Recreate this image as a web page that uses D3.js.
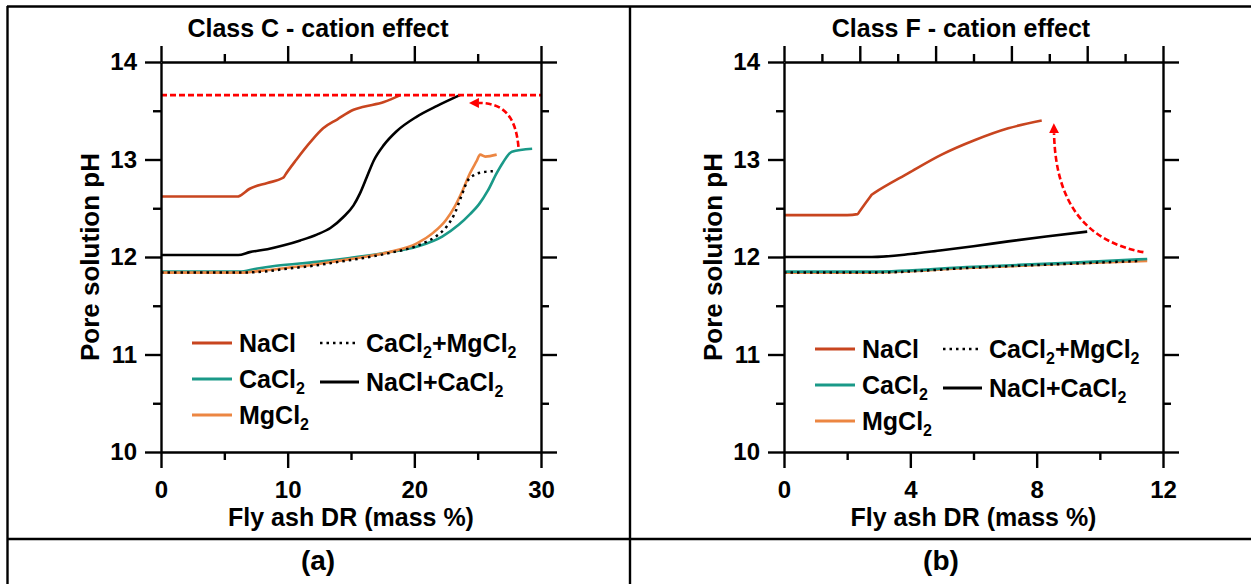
<!DOCTYPE html>
<html>
<head>
<meta charset="utf-8">
<script src="https://cdn.jsdelivr.net/npm/d3@7"></script>
<style>
  html, body { margin: 0; padding: 0; background: #fff; }
  svg { display: block; }
  text { font-family: "Liberation Sans", Arial, sans-serif; font-weight: bold; fill: #000; }
</style>
</head>
<body>
<svg id="chart" width="1251" height="584"></svg>
<script>
// ---------- DATA ----------
// Axis ticks
const yTicks = [10, 11, 12, 13, 14];
const yMinor = [10.5, 11.5, 12.5, 13.5];
const xTicksC = [0, 10, 20, 30];
const xMinorC = [5, 15, 25];
const xTicksF = [0, 4, 8, 12];
const xMinorF = [2, 6, 10];
const topTicksF = [0, 2.4, 4.8, 7.2, 9.6, 12];
const topMinorF = [1.2, 3.6, 6, 8.4, 10.8];

// Class C (panel a)
const cNaCl_x = [0, 6.1, 6.2, 7.0, 8.4, 9.6, 9.7, 9.8, 10.7, 11.8, 12.8, 13.9, 15.2, 16.0, 17.6, 18.9];
const cNaCl_y = [12.62, 12.62, 12.626, 12.70, 12.76, 12.81, 12.82, 12.84, 13.00, 13.18, 13.32, 13.41, 13.51, 13.54, 13.59, 13.66];
const cNaClCa_x = [0, 6.1, 7.0, 8.4, 9.7, 11.0, 12.3, 13.4, 14.4, 15.2, 15.7, 16.25, 16.8, 17.6, 18.6, 20.2, 21.8, 23.6];
const cNaClCa_y = [12.02, 12.02, 12.05, 12.08, 12.12, 12.17, 12.23, 12.30, 12.41, 12.53, 12.65, 12.82, 12.99, 13.15, 13.29, 13.44, 13.55, 13.66];
const cCaCl2_x = [0, 6.2, 7.5, 9.1, 12.3, 14.9, 17.6, 20.3, 22.2, 23.5, 24.4, 25.1, 25.8, 26.5, 27.0, 27.7, 29.3];
const cCaCl2_y = [11.85, 11.85, 11.88, 11.91, 11.95, 11.99, 12.04, 12.11, 12.21, 12.33, 12.44, 12.54, 12.68, 12.86, 12.97, 13.08, 13.11];
const cMgCl2_x = [0, 6.3, 8, 10, 12, 14, 16, 18, 20.2, 21.5, 22.5, 23.2, 23.8, 24.4, 24.9, 25.2, 25.6, 26.5];
const cMgCl2_y = [11.84, 11.84, 11.86, 11.89, 11.92, 11.96, 12.0, 12.05, 12.14, 12.25, 12.38, 12.52, 12.68, 12.86, 12.98, 13.05, 13.03, 13.05];
const cCaMg_x = [0, 6.3, 8, 10, 12, 14, 16, 18, 20.5, 21.8, 22.6, 23.2, 23.7, 24.2, 24.7, 25.4, 26.2];
const cCaMg_y = [11.84, 11.84, 11.85, 11.88, 11.91, 11.95, 11.99, 12.04, 12.13, 12.22, 12.32, 12.45, 12.62, 12.78, 12.84, 12.87, 12.88];
const cRefPH = 13.66;                         // red dashed level
const cArrow = [[28.22, 13.13], [28.0, 13.45], [27.0, 13.58], [25.1, 13.58]];

// Class F (panel b)
const fNaCl_x = [0, 2.0, 2.33, 2.38, 2.73, 2.78, 2.85, 3.94, 4.99, 6.05, 7.10, 8.16];
const fNaCl_y = [12.43, 12.43, 12.44, 12.462, 12.618, 12.64, 12.655, 12.86, 13.05, 13.20, 13.32, 13.40];
const fNaClCa_x = [0, 2.78, 4.0, 5.0, 6.0, 7.1, 8.3, 9.6];
const fNaClCa_y = [12.0, 12.0, 12.03, 12.07, 12.11, 12.16, 12.21, 12.26];
const fCaCl2_x = [0, 2.8, 6, 9, 11.5];
const fCaCl2_y = [11.85, 11.85, 11.90, 11.94, 11.98];
const fMgCl2_x = [0, 2.8, 6, 9, 11.5];
const fMgCl2_y = [11.84, 11.84, 11.89, 11.93, 11.96];
const fCaMg_x = [0, 2.8, 6, 9, 11.3];
const fCaMg_y = [11.84, 11.84, 11.89, 11.93, 11.96];
const fArrow = [[11.38, 12.05], [9.7, 12.15], [8.6, 12.5], [8.55, 13.27]];

// Labels
const titles = ["Class C - cation effect", "Class F - cation effect"];
const panelLabels = ["(a)", "(b)"];
const xTitle = "Fly ash DR (mass %)";
const yTitle = "Pore solution pH";
const legendCol1 = ["NaCl", "CaCl2", "MgCl2"];
const legendCol2 = ["CaCl2+MgCl2", "NaCl+CaCl2"];

// ---------- STYLE ----------
const colNaCl = "#C8451F", colCa = "#1A9988", colMg = "#EC8642", colRed = "#FF0000";
const styles = {
  "NaCl":        { stroke: colNaCl, dash: null },
  "CaCl2":       { stroke: colCa, dash: null },
  "MgCl2":       { stroke: colMg, dash: null },
  "CaCl2+MgCl2": { stroke: "#000", dash: "2.5,4" },
  "NaCl+CaCl2":  { stroke: "#000", dash: null }
};

const svg = d3.select("#chart");
const AX = 2.4;
const FS = 25;

// Marker
const defs = svg.append("defs");
defs.append("marker").attr("id", "arr").attr("viewBox", "0 0 10 10")
  .attr("refX", 0).attr("refY", 5).attr("markerWidth", 10).attr("markerHeight", 10)
  .attr("markerUnits", "userSpaceOnUse").attr("orient", "auto")
  .append("path").attr("d", "M0,0 L10,5 L0,10 Z").attr("fill", colRed);

// Table frame
const frame = svg.append("g").attr("stroke", "#000").attr("stroke-width", 2.4);
frame.append("line").attr("x1", 7).attr("x2", 1251).attr("y1", 6.5).attr("y2", 6.5);
frame.append("line").attr("x1", 7.5).attr("x2", 7.5).attr("y1", 6).attr("y2", 584);
frame.append("line").attr("x1", 630).attr("x2", 630).attr("y1", 6).attr("y2", 584);
frame.append("line").attr("x1", 7).attr("x2", 1251).attr("y1", 539).attr("y2", 539);

function labelWithSubs(sel, str) {
  const parts = str.split(/(\d)/).filter(p => p.length);
  let sub = false;
  parts.forEach(p => {
    if (/^\d$/.test(p)) {
      sel.append("tspan").attr("font-size", 16).attr("dy", 6).text(p);
      sub = true;
    } else {
      sel.append("tspan").attr("dy", sub ? -6 : 0).text(p);
      sub = false;
    }
  });
}

function panel(cfg) {
  const x = d3.scaleLinear().domain(cfg.xDomain).range([cfg.left, cfg.right]);
  const y = d3.scaleLinear().domain([10, 14]).range([452, 62]);
  const g = svg.append("g");

  // series
  const line = d3.line().x(d => x(d[0])).y(d => y(d[1])).curve(d3.curveMonotoneX);
  cfg.series.forEach(s => {
    const pts = s.xs.map((v, i) => [v, s.ys[i]]);
    const st = styles[s.name];
    g.append("path").attr("d", line(pts)).attr("fill", "none")
      .attr("stroke", st.stroke).attr("stroke-width", st.dash ? 2.5 : 2.6)
      .attr("stroke-dasharray", st.dash)
      .attr("stroke-linejoin", "round");
  });

  // red dashed reference level
  if (cfg.refPH != null) {
    g.append("line").attr("x1", x(cfg.xDomain[0])).attr("x2", x(cfg.xDomain[1]))
      .attr("y1", y(cfg.refPH)).attr("y2", y(cfg.refPH))
      .attr("stroke", colRed).attr("stroke-width", 2.6).attr("stroke-dasharray", "6,3");
  }
  // red dashed arrow
  const a = cfg.arrow.map(p => [x(p[0]), y(p[1])]);
  g.append("path")
    .attr("d", `M${a[0]}C${a[1]} ${a[2]} ${a[3]}`)
    .attr("fill", "none").attr("stroke", colRed).attr("stroke-width", 2.6)
    .attr("stroke-dasharray", "6,3").attr("marker-end", "url(#arr)");

  // axes
  function styleAxis(sel) {
    sel.selectAll("path.domain").attr("stroke-width", AX);
    sel.selectAll(".tick line").attr("stroke-width", AX);
    sel.selectAll("text").attr("font-size", 24).attr("font-family", '"Liberation Sans", Arial, sans-serif')
      .attr("font-weight", "bold");
  }
  const bottom = g.append("g").attr("transform", "translate(0,452)")
    .call(d3.axisBottom(x).tickValues(cfg.xTicks).tickSize(16).tickSizeOuter(0).tickPadding(13).tickFormat(d3.format("d")));
  styleAxis(bottom);
  const bottomMinor = g.append("g").attr("transform", "translate(0,452)")
    .call(d3.axisBottom(x).tickValues(cfg.xMinor).tickSize(8).tickFormat(""));
  bottomMinor.select(".domain").remove(); styleAxis(bottomMinor);

  const top = g.append("g").attr("transform", "translate(0,62)")
    .call(d3.axisTop(x).tickValues(cfg.topTicks).tickSize(16).tickSizeOuter(0).tickFormat(""));
  styleAxis(top);
  const topMinor = g.append("g").attr("transform", "translate(0,62)")
    .call(d3.axisTop(x).tickValues(cfg.topMinor).tickSize(8).tickFormat(""));
  topMinor.select(".domain").remove(); styleAxis(topMinor);

  const left = g.append("g").attr("transform", `translate(${cfg.left},0)`)
    .call(d3.axisLeft(y).tickValues(yTicks).tickSize(16).tickSizeOuter(0).tickPadding(8).tickFormat(d3.format("d")));
  styleAxis(left);
  const leftMinor = g.append("g").attr("transform", `translate(${cfg.left},0)`)
    .call(d3.axisLeft(y).tickValues(yMinor).tickSize(8).tickFormat(""));
  leftMinor.select(".domain").remove(); styleAxis(leftMinor);

  const right = g.append("g").attr("transform", `translate(${cfg.right},0)`)
    .call(d3.axisRight(y).tickValues(yTicks).tickSize(16).tickSizeOuter(0).tickFormat(""));
  styleAxis(right);
  const rightMinor = g.append("g").attr("transform", `translate(${cfg.right},0)`)
    .call(d3.axisRight(y).tickValues(yMinor).tickSize(8).tickFormat(""));
  rightMinor.select(".domain").remove(); styleAxis(rightMinor);

  // titles
  g.append("text").attr("x", cfg.titleX).attr("y", 37).attr("text-anchor", "middle")
    .attr("font-size", FS).text(cfg.title);
  g.append("text").attr("x", (cfg.left + cfg.right) / 2).attr("y", 526).attr("text-anchor", "middle")
    .attr("font-size", FS).text(xTitle);
  g.append("text").attr("transform", `translate(${cfg.left - 62},257) rotate(-90)`)
    .attr("text-anchor", "middle").attr("font-size", 26).text(yTitle);
  g.append("text").attr("x", cfg.panelX).attr("y", 570).attr("text-anchor", "middle")
    .attr("font-size", 28).attr("font-family", "Lato, 'Open Sans', sans-serif").attr("font-weight", "bold")
    .text(cfg.panelLabel);

  // legend
  const lg = g.append("g").attr("transform", `translate(${cfg.left},${cfg.legendTop})`);
  const rowH = 36;
  legendCol1.forEach((name, i) => {
    const st = styles[name];
    lg.append("line").attr("x1", 31).attr("x2", 71).attr("y1", i * rowH).attr("y2", i * rowH)
      .attr("stroke", st.stroke).attr("stroke-width", 3).attr("stroke-dasharray", st.dash);
    const t = lg.append("text").attr("x", 78).attr("y", i * rowH + 8.8).attr("font-size", FS);
    labelWithSubs(t, name);
  });
  legendCol2.forEach((name, i) => {
    const st = styles[name];
    lg.append("line").attr("x1", 159).attr("x2", 198).attr("y1", i * (rowH + 3)).attr("y2", i * (rowH + 3))
      .attr("stroke", st.stroke).attr("stroke-width", st.dash ? 2.5 : 3).attr("stroke-dasharray", st.dash);
    const t = lg.append("text").attr("x", 205).attr("y", i * (rowH + 3) + 8.8).attr("font-size", FS);
    labelWithSubs(t, name);
  });
}

panel({
  left: 161, right: 541, xDomain: [0, 30], xTicks: xTicksC, xMinor: xMinorC,
  topTicks: xTicksC, topMinor: xMinorC, title: titles[0], titleX: 318, panelX: 318,
  panelLabel: panelLabels[0], legendTop: 343, refPH: cRefPH, arrow: cArrow,
  series: [
    { name: "NaCl", xs: cNaCl_x, ys: cNaCl_y },
    { name: "NaCl+CaCl2", xs: cNaClCa_x, ys: cNaClCa_y },
    { name: "CaCl2", xs: cCaCl2_x, ys: cCaCl2_y },
    { name: "MgCl2", xs: cMgCl2_x, ys: cMgCl2_y },
    { name: "CaCl2+MgCl2", xs: cCaMg_x, ys: cCaMg_y }
  ]
});

panel({
  left: 784, right: 1163, xDomain: [0, 12], xTicks: xTicksF, xMinor: xMinorF,
  topTicks: topTicksF, topMinor: topMinorF, title: titles[1], titleX: 961, panelX: 941,
  panelLabel: panelLabels[1], legendTop: 349, refPH: null, arrow: fArrow,
  series: [
    { name: "NaCl", xs: fNaCl_x, ys: fNaCl_y },
    { name: "NaCl+CaCl2", xs: fNaClCa_x, ys: fNaClCa_y },
    { name: "MgCl2", xs: fMgCl2_x, ys: fMgCl2_y },
    { name: "CaCl2", xs: fCaCl2_x, ys: fCaCl2_y },
    { name: "CaCl2+MgCl2", xs: fCaMg_x, ys: fCaMg_y }
  ]
});
</script>
</body>
</html>
